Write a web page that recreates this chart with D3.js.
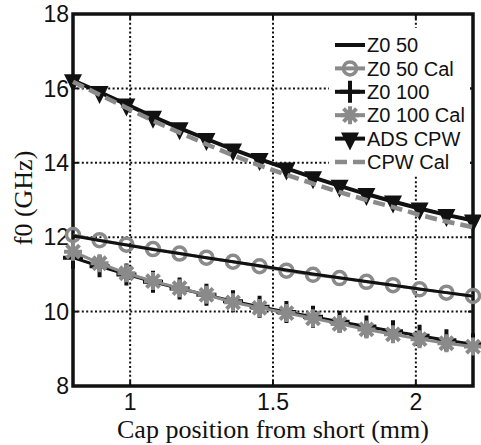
<!DOCTYPE html>
<html lang="en">
<head>
<meta charset="UTF-8" />
<title>f0 vs cap position</title>
<script src="https://cdn.jsdelivr.net/npm/d3@7"></script>
<style>
  body { margin: 0; background: #fff; }
  svg { display: block; }
  .tick-label { font-family: "Liberation Sans", Arial, sans-serif; font-size: 23px; fill: #111; }
  .axis-title { font-family: "Liberation Serif", "Times New Roman", serif; font-size: 26px; fill: #111; }
  .legend-label { font-family: "Liberation Sans", Arial, sans-serif; font-size: 20px; fill: #111; }
</style>
</head>
<body>
<svg id="chart" width="481" height="445"></svg>
<script>
// cap position (mm), 16 samples
var capPos = [0.8, 0.893, 0.987, 1.08, 1.173, 1.267, 1.36, 1.453, 1.547, 1.64, 1.733, 1.827, 1.92, 2.013, 2.107, 2.2];

// f0 (GHz) per series
var z050     = [12.04, 11.91, 11.79, 11.67, 11.56, 11.45, 11.34, 11.23, 11.12, 11.01, 10.91, 10.81, 10.71, 10.61, 10.51, 10.41];
var z050Cal  = [12.06, 11.92, 11.80, 11.68, 11.56, 11.45, 11.34, 11.22, 11.10, 10.99, 10.90, 10.80, 10.71, 10.60, 10.51, 10.42];
var z0100    = [11.45, 11.22, 11.00, 10.80, 10.62, 10.45, 10.28, 10.13, 9.99, 9.86, 9.73, 9.60, 9.47, 9.35, 9.23, 9.12];
var z0100Cal = [11.61, 11.30, 11.03, 10.82, 10.63, 10.45, 10.25, 10.10, 9.96, 9.82, 9.67, 9.52, 9.39, 9.26, 9.15, 9.06];
var adsCpw   = [16.22, 15.90, 15.57, 15.24, 14.93, 14.64, 14.36, 14.10, 13.85, 13.61, 13.38, 13.16, 12.96, 12.77, 12.60, 12.45];
var cpwCal   = [16.18, 15.83, 15.48, 15.13, 14.81, 14.50, 14.20, 13.93, 13.68, 13.44, 13.21, 13.00, 12.81, 12.60, 12.42, 12.27];

var xTicks = [1, 1.5, 2];
var yTicks = [8, 10, 12, 14, 16, 18];
var legendNames = ["Z0 50", "Z0 50 Cal", "Z0 100", "Z0 100 Cal", "ADS CPW", "CPW Cal"];

var GRAY = "#8a8a8a";
var svg = d3.select("#chart");
var L = 73, R = 473, T = 14, B = 386;

var x = d3.scaleLinear().domain([0.8, 2.2]).range([L, R]);
var y = d3.scaleLinear().domain([8, 18]).range([B, T]);

// grid
var grid = svg.append("g").attr("stroke", "#111").attr("stroke-width", 2).attr("stroke-dasharray", "2,2.4");
grid.selectAll(".gx").data(xTicks).enter().append("line")
  .attr("x1", d => x(d)).attr("x2", d => x(d)).attr("y1", T).attr("y2", B);
grid.selectAll(".gy").data(yTicks.slice(1, -1)).enter().append("line")
  .attr("y1", d => y(d)).attr("y2", d => y(d)).attr("x1", L).attr("x2", R);

// ticks on all four sides, pointing in
var tk = svg.append("g").attr("stroke", "#111").attr("stroke-width", 2);
xTicks.forEach(function(d) {
  tk.append("line").attr("x1", x(d)).attr("x2", x(d)).attr("y1", B).attr("y2", B - 5);
  tk.append("line").attr("x1", x(d)).attr("x2", x(d)).attr("y1", T).attr("y2", T + 5);
});
yTicks.forEach(function(d) {
  tk.append("line").attr("y1", y(d)).attr("y2", y(d)).attr("x1", L).attr("x2", L + 5);
  tk.append("line").attr("y1", y(d)).attr("y2", y(d)).attr("x1", R).attr("x2", R - 5);
});

// frame
svg.append("rect").attr("x", L).attr("y", T).attr("width", R - L).attr("height", B - T)
  .attr("fill", "none").attr("stroke", "#111").attr("stroke-width", 3.5);

// tick labels
svg.selectAll(".xl").data(xTicks).enter().append("text").attr("class", "tick-label")
  .attr("x", d => x(d)).attr("y", 410).attr("text-anchor", "middle").text(d => d);
svg.selectAll(".yl").data(yTicks).enter().append("text").attr("class", "tick-label")
  .attr("x", 69).attr("y", d => y(d)).attr("dy", "0.36em").attr("text-anchor", "end").text(d => d);

// axis titles
svg.append("text").attr("class", "axis-title").attr("x", 273).attr("y", 438)
  .attr("text-anchor", "middle").text("Cap position from short (mm)");
svg.append("text").attr("class", "axis-title")
  .attr("transform", "translate(32,198) rotate(-90)")
  .attr("text-anchor", "middle").text("f0 (GHz)");

// marker shapes
var plusPath = "M-10,0H10M0,-11V11";
var starPath = "M-9,0H9M0,-9V9M-6.5,-6.5L6.5,6.5M-6.5,6.5L6.5,-6.5";
var triPath = "M-9,-6L9,-6L0,12Z";

function pts(vals) { return capPos.map((c, i) => [c, vals[i]]); }
var line = d3.line().x(d => x(d[0])).y(d => y(d[1]));

function drawLine(vals, color, width, dash) {
  svg.append("path").datum(pts(vals)).attr("d", line)
    .attr("fill", "none").attr("stroke", color).attr("stroke-width", width)
    .attr("stroke-dasharray", dash || null);
}
function drawMarks(vals, draw) {
  var g = svg.append("g");
  pts(vals).forEach(function(p) {
    draw(g.append("g").attr("transform", "translate(" + x(p[0]) + "," + y(p[1]) + ")"));
  });
}
function circleMark(g) { g.append("circle").attr("r", 6.5).attr("fill", "none").attr("stroke", GRAY).attr("stroke-width", 3.5); }
function plusMark(g) { g.append("path").attr("d", plusPath).attr("stroke", "#111").attr("stroke-width", 4); }
function starMark(g) { g.append("path").attr("d", starPath).attr("stroke", GRAY).attr("stroke-width", 4); }
function triMark(g) { g.append("path").attr("d", triPath).attr("fill", "#111"); }

// Z0 50 pair
drawLine(z050Cal, GRAY, 3);
drawMarks(z050Cal, circleMark);
drawLine(z050, "#111", 3);
// Z0 100 pair
drawMarks(z0100, plusMark);
drawLine(z0100, "#111", 3);
drawLine(z0100Cal, GRAY, 3);
drawMarks(z0100Cal, starMark);
// CPW pair
drawLine(adsCpw, "#111", 4);
drawMarks(adsCpw, triMark);
drawLine(cpwCal, GRAY, 4.5, "12,6");

// legend
var leg = svg.append("g");
leg.append("rect").attr("x", 329).attr("y", 28).attr("width", 141).attr("height", 148).attr("fill", "#fff");
var legDraw = [
  function(g) { g.append("line").attr("x1", -15).attr("x2", 15).attr("stroke", "#111").attr("stroke-width", 4); },
  function(g) { g.append("line").attr("x1", -15).attr("x2", 15).attr("stroke", GRAY).attr("stroke-width", 4); circleMark(g); },
  function(g) { g.append("line").attr("x1", -15).attr("x2", 15).attr("stroke", "#111").attr("stroke-width", 4); plusMark(g); },
  function(g) { g.append("line").attr("x1", -15).attr("x2", 15).attr("stroke", GRAY).attr("stroke-width", 4); starMark(g); },
  function(g) { g.append("line").attr("x1", -15).attr("x2", 15).attr("stroke", "#111").attr("stroke-width", 4); triMark(g); },
  function(g) { g.append("line").attr("x1", -15).attr("x2", 15).attr("stroke", GRAY).attr("stroke-width", 4.5).attr("stroke-dasharray", "12,6"); }
];
legendNames.forEach(function(name, i) {
  var cy = 45 + i * 23.4;
  legDraw[i](leg.append("g").attr("transform", "translate(350," + cy + ")"));
  leg.append("text").attr("class", "legend-label").attr("x", 367).attr("y", cy).attr("dy", "0.36em").text(name);
});
</script>
</body>
</html>
